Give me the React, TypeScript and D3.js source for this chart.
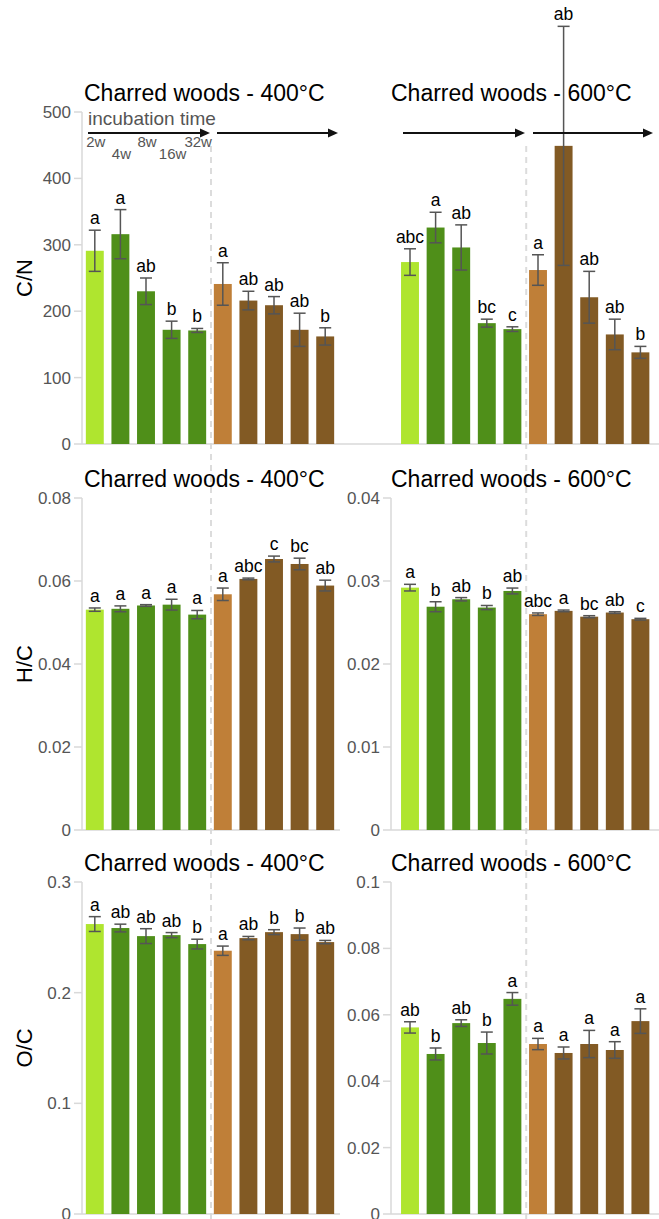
import React from "react";
import * as d3 from "d3";

// ---------- data ----------
const weeks = ["2w", "4w", "8w", "16w", "32w"];
const barIds = d3.range(10);

const cnValues400 = [291, 316, 230, 172, 171, 241, 216, 209, 172, 162];
const cnErr400 = [31, 37, 20, 13, 3, 32, 14, 13, 25, 13];
const cnLetters400 = ["a", "a", "ab", "b", "b", "a", "ab", "ab", "ab", "b"];

const cnValues600 = [274, 326, 296, 182, 173, 262, 449, 221, 165, 138];
const cnErr600 = [20, 23, 34, 6, 3.5, 23, 180, 39, 23, 9];
const cnLetters600 = ["abc", "a", "ab", "bc", "c", "a", "ab", "ab", "ab", "b"];

const hcValues400 = [0.0531, 0.0533, 0.0541, 0.0543, 0.0519, 0.0568, 0.0605, 0.0653, 0.0641, 0.0589];
const hcErr400 = [0.0004, 0.0007, 0.0002, 0.0013, 0.001, 0.0015, 0.0002, 0.0007, 0.0014, 0.0013];
const hcLetters400 = ["a", "a", "a", "a", "a", "a", "abc", "c", "bc", "ab"];

const hcValues600 = [0.0292, 0.0269, 0.0278, 0.0268, 0.0288, 0.026, 0.0264, 0.0257, 0.0262, 0.0254];
const hcErr600 = [0.0004, 0.0006, 0.0002, 0.00025, 0.00035, 0.00015, 0.0001, 0.00012, 0.0001, 0.0001];
const hcLetters600 = ["a", "b", "ab", "b", "ab", "abc", "a", "bc", "ab", "c"];

const ocValues400 = [0.262, 0.2584, 0.2511, 0.252, 0.2439, 0.2379, 0.2493, 0.2547, 0.2529, 0.2457];
const ocErr400 = [0.0067, 0.0035, 0.0067, 0.0023, 0.0044, 0.0042, 0.0015, 0.0022, 0.0055, 0.0015];
const ocLetters400 = ["a", "ab", "ab", "ab", "b", "a", "ab", "b", "b", "ab"];

const ocValues600 = [0.0562, 0.0482, 0.0575, 0.0515, 0.0648, 0.0512, 0.0485, 0.0512, 0.0494, 0.0581];
const ocErr600 = [0.0017, 0.0018, 0.001, 0.0033, 0.0019, 0.0017, 0.0018, 0.0041, 0.0025, 0.0037];
const ocLetters600 = ["ab", "b", "ab", "b", "a", "a", "a", "a", "a", "a"];

const cnTicks = [0, 100, 200, 300, 400, 500];
const hcTicks400 = [0, 0.02, 0.04, 0.06, 0.08];
const hcTicks600 = [0, 0.01, 0.02, 0.03, 0.04];
const ocTicks400 = [0, 0.1, 0.2, 0.3];
const ocTicks600 = [0, 0.02, 0.04, 0.06, 0.08, 0.1];

// ---------- style ----------
const FONT = "'Liberation Sans', Arial, Helvetica, sans-serif";
const colorFor = (i: number) =>
  i === 0 ? "#afe52f" : i < 5 ? "#4f8f19" : i === 5 ? "#bf7f38" : "#825a24";
const AXIS = "#d9d9d9";
const TICKTXT = "#555555";

type PanelProps = {
  title: string;
  left: boolean;
  top: number;
  domain: [number, number];
  ticks: number[] | null;
  values: number[];
  errs: number[];
  letters: string[];
  showAxis: boolean;
  baselineFrom?: number;
};

const H = 332;

function Panel(p: PanelProps) {
  const axisX = p.left ? 82 : 391;
  const rangeStart = p.left ? 82 : 397.2;
  const x = d3.scaleBand<number>().domain(barIds).range([rangeStart, rangeStart + 256]).paddingInner(0.3).paddingOuter(0.15);
  const y = d3.scaleLinear().domain(p.domain).range([p.top + H, p.top]);
  const bw = x.bandwidth();
  const titleX = p.left ? 84 : 391;
  const baseEnd = p.left ? 340 : 659;
  const fmt = (v: number) => (v === 0 ? "0" : d3.format("~g")(v));
  return (
    <g>
      <text x={titleX} y={p.top - 11} fontSize={23} fontFamily={FONT} fill="#000">
        {p.title}
      </text>
      {p.showAxis && (
        <g>
          <line x1={axisX} x2={axisX} y1={y(p.domain[1])} y2={y(0)} stroke={AXIS} strokeWidth={1.5} />
          {(p.ticks || []).map((t) => (
            <g key={t}>
              <line x1={axisX - 8} x2={axisX} y1={y(t)} y2={y(t)} stroke={AXIS} strokeWidth={1.5} />
              <text x={axisX - 11} y={y(t)} dy="0.35em" textAnchor="end" fontSize={17} fontFamily={FONT} fill={TICKTXT}>
                {fmt(t)}
              </text>
            </g>
          ))}
        </g>
      )}
      <line x1={p.baselineFrom ?? axisX} x2={baseEnd} y1={y(0)} y2={y(0)} stroke={AXIS} strokeWidth={1.5} />
      {barIds.map((i) => {
        const v = p.values[i];
        const e = p.errs[i];
        const cx = (x(i) as number) + bw / 2;
        return (
          <g key={i}>
            <rect x={x(i)} y={y(v)} width={bw} height={y(0) - y(v)} fill={colorFor(i)} />
            <line x1={cx} x2={cx} y1={y(v + e)} y2={y(v - e)} stroke="#555" strokeWidth={1.5} />
            <line x1={cx - 6} x2={cx + 6} y1={y(v + e)} y2={y(v + e)} stroke="#555" strokeWidth={1.5} />
            <line x1={cx - 6} x2={cx + 6} y1={y(v - e)} y2={y(v - e)} stroke="#555" strokeWidth={1.5} />
            <text x={cx} y={y(v + e) - 6} textAnchor="middle" fontSize={17.5} fontFamily={FONT} fill="#000">
              {p.letters[i]}
            </text>
          </g>
        );
      })}
    </g>
  );
}

function Arrow({ x1, x2, yy }: { x1: number; x2: number; yy: number }) {
  return (
    <g>
      <line x1={x1} x2={x2 - 8} y1={yy} y2={yy} stroke="#111" strokeWidth={2} />
      <path d={`M${x2},${yy} L${x2 - 10},${yy - 4.5} L${x2 - 10},${yy + 4.5} Z`} fill="#111" />
    </g>
  );
}

export default function App() {
  const xl = d3.scaleBand<number>().domain(barIds).range([82, 338]).paddingInner(0.3).paddingOuter(0.15);
  const xr = d3.scaleBand<number>().domain(barIds).range([397.2, 653.2]).paddingInner(0.3).paddingOuter(0.15);
  const bw = xl.bandwidth();
  const sepL = ((xl(4) as number) + bw + (xl(5) as number)) / 2 + 1;
  const sepR = ((xr(4) as number) + bw + (xr(5) as number)) / 2 + 1;
  const rows = [112, 498, 882];
  const ylabels = ["C/N", "H/C", "O/C"];
  return (
    <svg width={659} height={1219} style={{ position: "absolute", left: 0, top: 0, background: "#fff" }}>
      <rect x={0} y={0} width={659} height={1219} fill="#fff" />
      {[sepL, sepR].map((sx, k) => (
        <line key={k} x1={sx} x2={sx} y1={146} y2={1219} stroke="#dcdcdc" strokeWidth={2} strokeDasharray="6,5" />
      ))}
      {ylabels.map((l, k) => (
        <text key={l} transform={`translate(32,${rows[k] + H / 2}) rotate(-90)`} textAnchor="middle" fontSize={22} fontFamily={FONT} fill="#000">
          {l}
        </text>
      ))}
      <Panel title="Charred woods - 400°C" left top={rows[0]} domain={[0, 500]} ticks={cnTicks} values={cnValues400} errs={cnErr400} letters={cnLetters400} showAxis />
      <Panel title="Charred woods - 600°C" left={false} top={rows[0]} domain={[0, 500]} ticks={null} values={cnValues600} errs={cnErr600} letters={cnLetters600} showAxis={false} baselineFrom={340} />
      <Panel title="Charred woods - 400°C" left top={rows[1]} domain={[0, 0.08]} ticks={hcTicks400} values={hcValues400} errs={hcErr400} letters={hcLetters400} showAxis />
      <Panel title="Charred woods - 600°C" left={false} top={rows[1]} domain={[0, 0.04]} ticks={hcTicks600} values={hcValues600} errs={hcErr600} letters={hcLetters600} showAxis />
      <Panel title="Charred woods - 400°C" left top={rows[2]} domain={[0, 0.3]} ticks={ocTicks400} values={ocValues400} errs={ocErr400} letters={ocLetters400} showAxis />
      <Panel title="Charred woods - 600°C" left={false} top={rows[2]} domain={[0, 0.1]} ticks={ocTicks600} values={ocValues600} errs={ocErr600} letters={ocLetters600} showAxis />
      {/* incubation annotation */}
      <text x={88} y={125} fontSize={19} fontFamily={FONT} fill="#555">incubation time</text>
      <Arrow x1={88} x2={210} yy={133} />
      <Arrow x1={217} x2={338} yy={133} />
      <Arrow x1={403} x2={525} yy={133} />
      <Arrow x1={533} x2={653} yy={133} />
      {weeks.map((w, i) => (
        <text key={w} x={(xl(i) as number) + bw / 2 + 1} y={i % 2 === 0 ? 147 : 159} textAnchor="middle" fontSize={15} fontFamily={FONT} fill="#555">
          {w}
        </text>
      ))}
    </svg>
  );
}
